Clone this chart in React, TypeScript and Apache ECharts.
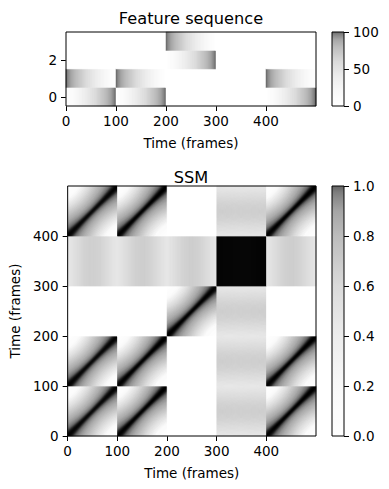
import React, { useEffect, useRef } from 'react';
import * as echarts from 'echarts';

// ---- data ----
const segmentStarts = [0, 100, 200, 300, 400];
const segmentLength = 100;
const segmentLabels = ['A', 'A', 'B', 'C', 'A'];
// per feature row: [value at segment start, value at segment end]
const patternA = [[0, 100], [100, 0], [0, 0], [0, 0]];
const patternB = [[0, 0], [0, 0], [0, 100], [100, 0]];
const patternC = [[1, 1], [1, 1], [1, 1], [1, 1]];
const featureRows = ['0', '1', '2', '3'];
const featureRowLabels = ['0', '2'];
const frameTickLabels = ['0', '100', '200', '300', '400'];
const featureColorbarTicks = [0, 50, 100];
const ssmColorbarTicks = [0, 0.2, 0.4, 0.6, 0.8, 1.0];

// colour maps (value fraction -> gray level)
const featureGrayStops = [[0, 255], [0.2, 248], [0.4, 236], [0.6, 218], [0.8, 188], [0.9, 165], [0.97, 130], [1, 100]];
const ssmGrayStops = [[0, 255], [0.3, 250], [0.5, 230], [0.6, 220], [0.7, 207], [0.8, 192], [0.9, 172], [0.95, 150], [0.98, 115], [0.99, 80], [0.996, 30], [1, 0]];

const FONT = 'DejaVu Sans';
const N_FRAMES = segmentStarts.length * segmentLength;
const FEAT_BIN = 2;
const SSM_BIN = 2;

function grayAt(stops: number[][], v: number) {
  if (v <= stops[0][0]) return stops[0][1];
  for (let i = 1; i < stops.length; i++) {
    if (v <= stops[i][0]) {
      const [v0, g0] = stops[i - 1];
      const [v1, g1] = stops[i];
      return g0 + ((g1 - g0) * (v - v0)) / (v1 - v0);
    }
  }
  return stops[stops.length - 1][1];
}
function colorList(stops: number[][], n: number) {
  const out: string[] = [];
  for (let i = 0; i <= n; i++) {
    const g = Math.round(grayAt(stops, i / n));
    out.push(`rgb(${g},${g},${g})`);
  }
  return out;
}

function buildFeatures() {
  const patterns: Record<string, number[][]> = { A: patternA, B: patternB, C: patternC };
  const X: number[][] = featureRows.map(() => new Array(N_FRAMES).fill(0));
  segmentStarts.forEach((start, s) => {
    const p = patterns[segmentLabels[s]];
    for (let k = 0; k < segmentLength; k++) {
      for (let r = 0; r < featureRows.length; r++) {
        const [a, b] = p[r];
        X[r][start + k] = a + ((b - a) * k) / (segmentLength - 1);
      }
    }
  });
  return X;
}

function App() {
  const ref = useRef<HTMLDivElement>(null);
  useEffect(() => {
    if (!ref.current) return;
    const chart = echarts.init(ref.current, undefined, { renderer: 'svg' });

    const X = buildFeatures();
    const R = featureRows.length;
    const Xn: number[][] = [];
    for (let t = 0; t < N_FRAMES; t++) {
      let n = 0;
      for (let r = 0; r < R; r++) n += X[r][t] * X[r][t];
      n = Math.sqrt(n) || 1;
      Xn.push(X.map((row) => row[t] / n));
    }
    const S: number[][] = [];
    for (let i = 0; i < N_FRAMES; i++) {
      const rowS = new Array(N_FRAMES);
      for (let j = 0; j < N_FRAMES; j++) {
        let d = 0;
        for (let r = 0; r < R; r++) d += Xn[i][r] * Xn[j][r];
        rowS[j] = Math.min(1, d);
      }
      S.push(rowS);
    }

    const nFeatBins = N_FRAMES / FEAT_BIN;
    const featData: number[][] = [];
    const featBins: string[] = [];
    for (let b = 0; b < nFeatBins; b++) {
      featBins.push(String(b * FEAT_BIN));
      for (let r = 0; r < R; r++) {
        let sum = 0;
        for (let k = 0; k < FEAT_BIN; k++) sum += X[r][b * FEAT_BIN + k];
        featData.push([b, r, sum / FEAT_BIN]);
      }
    }
    const nSsmBins = N_FRAMES / SSM_BIN;
    const ssmBins: string[] = [];
    const ssmData: number[][] = [];
    for (let b = 0; b < nSsmBins; b++) ssmBins.push(String(b * SSM_BIN));
    for (let bi = 0; bi < nSsmBins; bi++) {
      for (let bj = 0; bj < nSsmBins; bj++) {
        let sum = 0;
        for (let a = 0; a < SSM_BIN; a++)
          for (let c = 0; c < SSM_BIN; c++) sum += S[bi * SSM_BIN + a][bj * SSM_BIN + c];
        ssmData.push([bj, bi, sum / (SSM_BIN * SSM_BIN)]);
      }
    }

    const frameCats: string[] = [];
    for (let f = 0; f <= N_FRAMES; f++) frameCats.push(String(f));
    const showFrame = (i: number) => frameTickLabels.includes(String(i));

    const labelStyle = { color: '#000', fontFamily: FONT, fontSize: 13.5 };
    const tick = { show: true, inside: false, length: 5, lineStyle: { color: '#000', width: 1 } };
    const hiddenCat = (data: string[], gridIndex: number, position: string) => ({
      type: 'category', data, gridIndex, show: false, position, boundaryGap: true,
    });
    const frameAxis = (gridIndex: number, position: string, isY: boolean) => ({
      type: 'category', data: frameCats, gridIndex, position, boundaryGap: false,
      axisLine: { show: false },
      axisTick: { ...tick, interval: (i: number) => showFrame(i) },
      axisLabel: { ...labelStyle, margin: isY ? 9 : 8, interval: (i: number) => showFrame(i) },
      splitLine: { show: false },
      name: 'Time (frames)', nameLocation: 'middle', nameGap: isY ? 40 : 30,
      nameTextStyle: { ...labelStyle },
    });

    const gradient = (stops: number[][]) => ({
      type: 'linear', x: 0, y: 0, x2: 0, y2: 1,
      colorStops: Array.from({ length: 41 }, (_, i) => {
        const off = i / 40;
        const g = Math.round(grayAt(stops, 1 - off));
        return { offset: off, color: `rgb(${g},${g},${g})` };
      }),
    });

    const gridBase = { show: true, borderColor: '#000', borderWidth: 1, backgroundColor: 'transparent', z: 10 };

    chart.setOption({
      animation: false,
      backgroundColor: '#fff',
      textStyle: { fontFamily: FONT },
      grid: [
        { ...gridBase, left: 66, top: 32, width: 250, height: 74 },
        { ...gridBase, left: 66, top: 186, width: 250, height: 250 },
        { ...gridBase, left: 332, top: 32, width: 12, height: 74 },
        { ...gridBase, left: 332, top: 186, width: 12, height: 250 },
      ],
      xAxis: [
        hiddenCat(featBins, 0, 'top'),
        frameAxis(0, 'bottom', false),
        hiddenCat(ssmBins, 1, 'top'),
        frameAxis(1, 'bottom', false),
        { type: 'category', data: ['cb'], gridIndex: 2, show: false },
        { type: 'category', data: ['cb'], gridIndex: 3, show: false },
      ],
      yAxis: [
        {
          type: 'category', data: featureRows, gridIndex: 0, position: 'left',
          axisLine: { show: false },
          axisTick: { ...tick, alignWithLabel: true, interval: (i: number) => featureRowLabels.includes(featureRows[i]) },
          axisLabel: { ...labelStyle, margin: 9, interval: (i: number) => featureRowLabels.includes(featureRows[i]) },
          splitLine: { show: false },
        },
        hiddenCat(ssmBins, 1, 'right'),
        frameAxis(1, 'left', true),
        {
          type: 'value', gridIndex: 2, position: 'right', min: featureColorbarTicks[0],
          max: featureColorbarTicks[featureColorbarTicks.length - 1], interval: 50,
          axisLine: { show: false }, splitLine: { show: false }, axisTick: tick,
          axisLabel: { ...labelStyle, margin: 9 },
        },
        {
          type: 'value', gridIndex: 3, position: 'right', min: ssmColorbarTicks[0],
          max: ssmColorbarTicks[ssmColorbarTicks.length - 1], interval: 0.2,
          axisLine: { show: false }, splitLine: { show: false }, axisTick: tick,
          axisLabel: { ...labelStyle, margin: 9, formatter: (v: number) => v.toFixed(1) },
        },
      ],
      visualMap: [
        { show: false, seriesIndex: 0, dimension: 2, min: 0, max: 100, inRange: { color: colorList(featureGrayStops, 400) } },
        { show: false, seriesIndex: 1, dimension: 2, min: 0, max: 1, inRange: { color: colorList(ssmGrayStops, 1000) } },
      ],
      series: [
        { type: 'heatmap', xAxisIndex: 0, yAxisIndex: 0, data: featData, progressive: 0, itemStyle: { borderWidth: 0 }, silent: true },
        { type: 'heatmap', xAxisIndex: 2, yAxisIndex: 1, data: ssmData, progressive: 0, itemStyle: { borderWidth: 0 }, silent: true },
        { type: 'bar', xAxisIndex: 4, yAxisIndex: 3, data: [featureColorbarTicks[featureColorbarTicks.length - 1]], barWidth: '100%', itemStyle: { color: gradient(featureGrayStops) }, silent: true },
        { type: 'bar', xAxisIndex: 5, yAxisIndex: 4, data: [ssmColorbarTicks[ssmColorbarTicks.length - 1]], barWidth: '100%', itemStyle: { color: gradient(featureGrayStops) }, silent: true },
      ],
      graphic: [
        { type: 'text', x: 191, y: 18, style: { text: 'Feature sequence', fontFamily: FONT, fontSize: 16.2, fill: '#000', align: 'center', verticalAlign: 'middle' } },
        { type: 'text', x: 191, y: 177, style: { text: 'SSM', fontFamily: FONT, fontSize: 16.2, fill: '#000', align: 'center', verticalAlign: 'middle' } },
      ],
    });
    return () => chart.dispose();
  }, []);
  return <div ref={ref} style={{ position: 'absolute', left: 0, top: 0, width: 389, height: 489 }} />;
}

export default App;
